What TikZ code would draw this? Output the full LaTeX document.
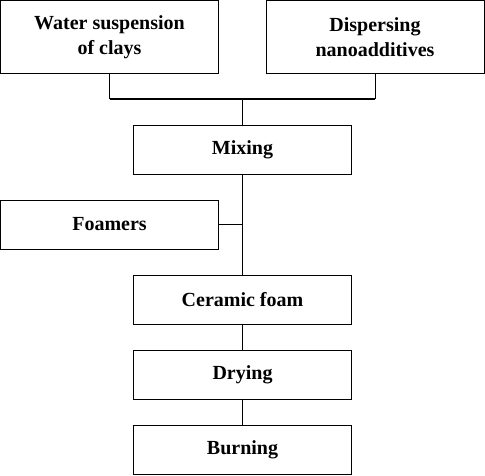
\documentclass[tikz,border=0pt]{standalone}
\usepackage{fontspec}
\setmainfont{Liberation Serif}
\usetikzlibrary{positioning}
\tikzset{stage/.style={draw,line width=.9pt,inner sep=0pt,minimum width=218pt,
           minimum height=49pt,align=center,
           font=\fontsize{20}{25}\selectfont\bfseries},
         source/.style={stage,minimum height=73pt},
         link/.style={line width=.9pt},
         bus/.style={line width=1.8pt}}

\begin{document}
\begin{tikzpicture}[x=1pt,y=-1pt]
  \useasboundingbox (0,0) rectangle (485,475);
  \node[source] (water) at (109.5,37) {Water suspension\\of clays};
  \node[source] (disp) at (375,37) {Dispersing\\nanoadditives};
  \node[stage] (mix) at (242.5,150) {Mixing};
  \node[stage] (foamers) at (109.5,224.5) {Foamers};
  \node[stage] (ceramic) at (242.5,299.5) {Ceramic foam};
  \node[stage] (drying) at (242.5,374.5) {Drying};
  \node[stage] (burning) at (242.5,450) {Burning};
  \coordinate (join) at (242.5,99);
  \draw[link] (water.south) -- (water.south |- join);
  \draw[link] (disp.south) -- (disp.south |- join);
  \draw[bus] (water.south |- join) -- (disp.south |- join);
  \draw[link] (join) -- (mix.north);
  \draw[link] (mix.south) -- (ceramic.north);
  \draw[bus] (foamers.east) -- (foamers.east -| mix.south);
  \draw[link] (ceramic) -- (drying);
  \draw[link] (drying) -- (burning);
\end{tikzpicture}
\end{document}
